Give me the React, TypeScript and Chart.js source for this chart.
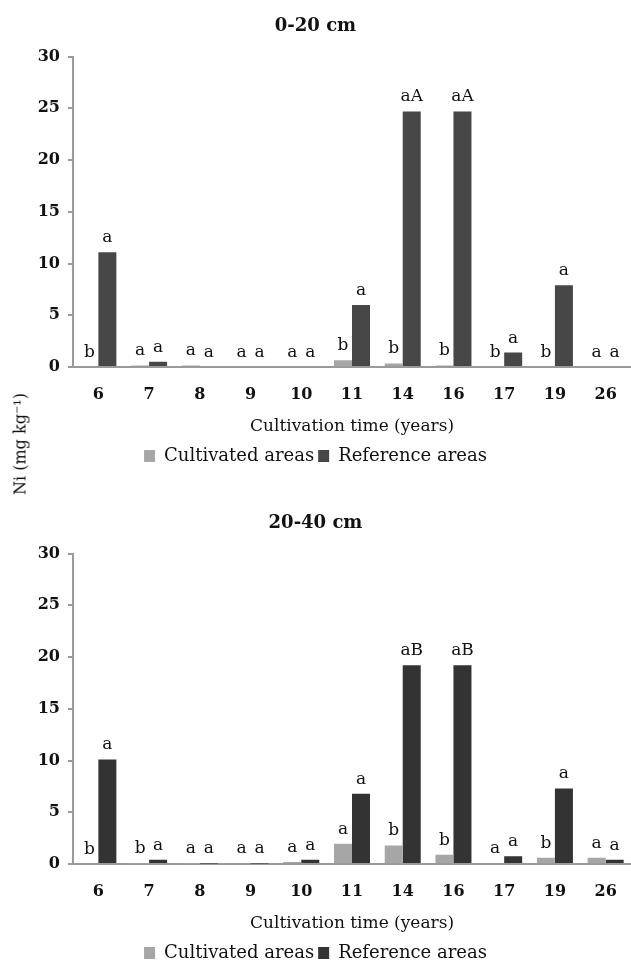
import React, { useEffect, useRef } from 'react';
import { Chart, registerables } from 'chart.js';

Chart.register(...registerables);

const categories = ['6', '7', '8', '9', '10', '11', '14', '16', '17', '19', '26'];

const topCultivated = [0, 0.15, 0.15, 0, 0, 0.65, 0.35, 0.15, 0, 0, 0];
const topReference = [11.1, 0.5, 0, 0, 0, 6.0, 24.7, 24.7, 1.4, 7.9, 0];
const topCultLetters = ['b', 'a', 'a', 'a', 'a', 'b', 'b', 'b', 'b', 'b', 'a'];
const topRefLetters = ['a', 'a', 'a', 'a', 'a', 'a', 'aA', 'aA', 'a', 'a', 'a'];

const bottomCultivated = [0, 0.05, 0.05, 0.1, 0.2, 1.95, 1.8, 0.9, 0.1, 0.6, 0.6];
const bottomReference = [10.1, 0.4, 0.05, 0.05, 0.4, 6.8, 19.2, 19.2, 0.75, 7.3, 0.4];
const bottomCultLetters = ['b', 'b', 'a', 'a', 'a', 'a', 'b', 'b', 'a', 'b', 'a'];
const bottomRefLetters = ['a', 'a', 'a', 'a', 'a', 'a', 'aB', 'aB', 'a', 'a', 'a'];

const yTicks = [0, 5, 10, 15, 20, 25, 30];

const FONT = '"DejaVu Serif", serif';
const CULT_COLOR = '#a6a6a6';
const CANVAS_H = 475;

const letterPlugin = {
  id: 'barLetters',
  afterDatasetsDraw(chart: any) {
    const ctx = chart.ctx;
    ctx.save();
    ctx.font = `17px ${FONT}`;
    ctx.fillStyle = '#111';
    ctx.textAlign = 'center';
    ctx.textBaseline = 'alphabetic';
    chart.data.datasets.forEach((ds: any, di: number) => {
      const meta = chart.getDatasetMeta(di);
      meta.data.forEach((el: any, i: number) => {
        const t = ds.letters?.[i];
        if (t) ctx.fillText(t, el.x, el.y - 10);
      });
    });
    ctx.restore();
  },
};

function makeConfig(title: string, cult: number[], ref: number[], cl: string[], rl: string[], refColor: string): any {
  return {
    type: 'bar',
    data: {
      labels: categories,
      datasets: [
        { label: 'Cultivated areas', data: cult, backgroundColor: CULT_COLOR, letters: cl, borderWidth: 0 },
        { label: 'Reference areas', data: ref, backgroundColor: refColor, letters: rl, borderWidth: 0 },
      ],
    },
    options: {
      responsive: false,
      animation: false,
      layout: { padding: { left: 0, right: 0, top: 0, bottom: 0 } },
      datasets: { bar: { categoryPercentage: 0.71, barPercentage: 1.0 } },
      plugins: {
        title: {
          display: true,
          text: title,
          color: '#111',
          font: { family: FONT, size: 18, weight: 'bold' },
          padding: { top: 16, bottom: 19 },
        },
        legend: {
          position: 'bottom',
          labels: {
            color: '#111',
            font: { family: FONT, size: 18 },
            boxWidth: 11,
            boxHeight: 12,
            padding: 4,
          },
        },
        tooltip: { enabled: false },
      },
      scales: {
        x: {
          grid: { display: false },
          border: { display: true, color: '#9a9a9a', width: 2 },
          ticks: { color: '#111', font: { family: FONT, size: 16, weight: 'bold' }, padding: 10, maxRotation: 0 },
          title: {
            display: true,
            text: 'Cultivation time (years)',
            color: '#111',
            font: { family: FONT, size: 17 },
            padding: { top: 4, bottom: 6 },
          },
          afterFit(scale: any) {
            scale.height = 76;
          },
        },
        y: {
          min: 0,
          max: 30,
          afterBuildTicks(scale: any) {
            scale.ticks = yTicks.map((v) => ({ value: v }));
          },
          afterFit(scale: any) {
            scale.width = 73;
          },
          grid: { drawOnChartArea: false, drawTicks: true, tickLength: 5, color: '#9a9a9a', lineWidth: 2 },
          border: { display: true, color: '#9a9a9a', width: 2 },
          ticks: { color: '#111', font: { family: FONT, size: 16, weight: 'bold' }, padding: 8 },
        },
      },
    },
    plugins: [letterPlugin],
  };
}

function BarPanel(props: { cfg: any; top: number }) {
  const ref = useRef<HTMLCanvasElement | null>(null);
  useEffect(() => {
    if (!ref.current) return;
    const chart = new Chart(ref.current, props.cfg);
    return () => chart.destroy();
  }, []);
  return (
    <canvas
      ref={ref}
      width={631}
      height={CANVAS_H}
      style={{ position: 'absolute', left: 0, top: props.top, width: 631, height: CANVAS_H }}
    />
  );
}

export default function App() {
  const topCfg = makeConfig('0-20 cm', topCultivated, topReference, topCultLetters, topRefLetters, '#474747');
  const bottomCfg = makeConfig('20-40 cm', bottomCultivated, bottomReference, bottomCultLetters, bottomRefLetters, '#333333');
  return (
    <div style={{ position: 'absolute', left: 0, top: 0, width: 631, height: 962, background: '#fff', overflow: 'hidden' }}>
      <BarPanel cfg={topCfg} top={0} />
      <BarPanel cfg={bottomCfg} top={497} />
      <div
        style={{
          position: 'absolute',
          left: 20,
          top: 444,
          transform: 'translate(-50%, -50%) rotate(-90deg)',
          whiteSpace: 'nowrap',
          fontFamily: FONT,
          fontSize: 16,
          color: '#111',
        }}
      >
        Ni (mg kg⁻¹)
      </div>
    </div>
  );
}
